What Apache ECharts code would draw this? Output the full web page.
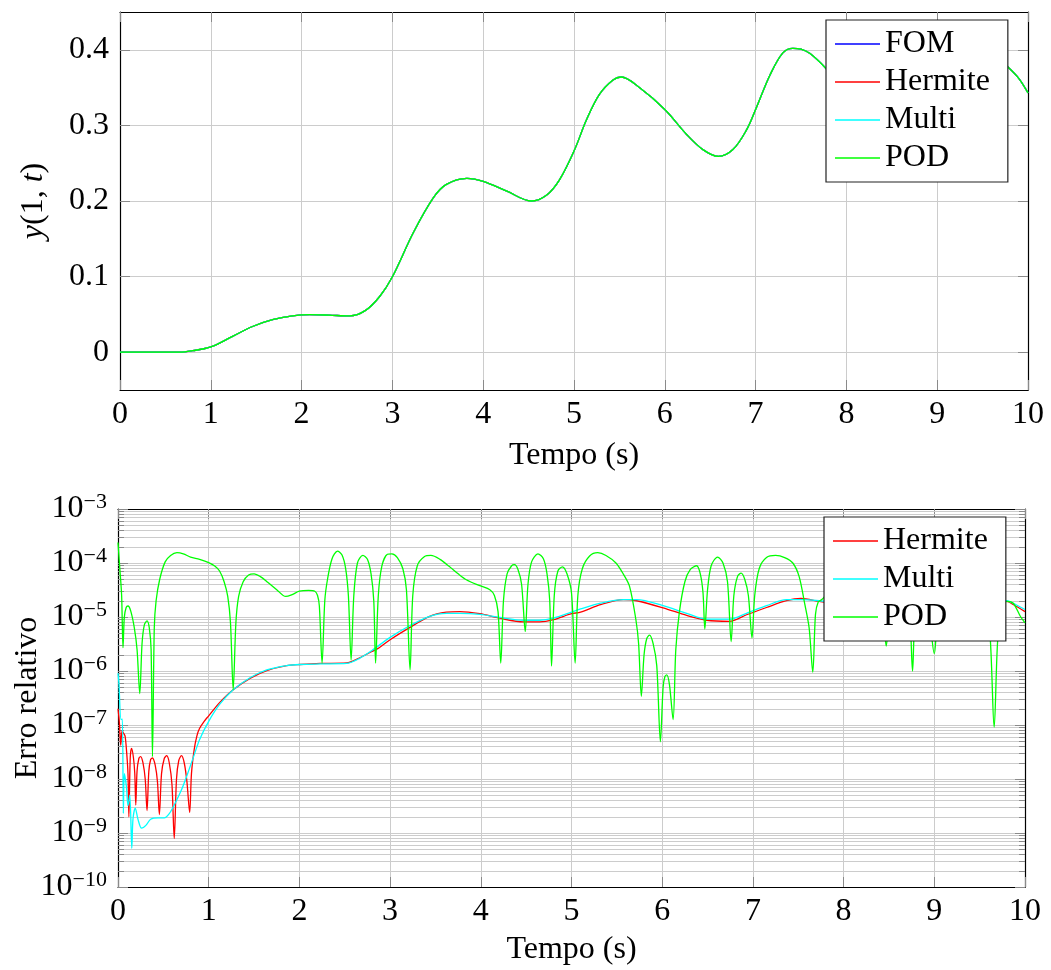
<!DOCTYPE html>
<html><head><meta charset="utf-8">
<script src="https://cdn.jsdelivr.net/npm/echarts@6/dist/echarts.min.js"></script>
<style>html,body{margin:0;padding:0;background:#fff}#c{width:1051px;height:970px}</style>
</head><body><div id="c"></div>
<script>
// ---------- data ----------
const xTicks = [0,1,2,3,4,5,6,7,8,9,10];
const yTopTicks = [0, 0.1, 0.2, 0.3, 0.4];
const yTopTickLabels = ['0', '0.1', '0.2', '0.3', '0.4'];
const errTicks = [1e-10, 1e-9, 1e-8, 1e-7, 1e-6, 1e-5, 1e-4, 1e-3];
const errTickExp = ['\u221210', '\u22129', '\u22128', '\u22127', '\u22126', '\u22125', '\u22124', '\u22123'];

// top panel: y(1,t) -- FOM, Hermite, Multi and POD coincide at plot resolution
const tTop = [0,0.5,0.66,0.8,1.0,1.24,1.46,1.68,1.9,2.09,2.3,2.53,2.7,2.86,3.0,3.23,3.45,3.59,3.82,4.0,4.26,4.53,4.7,4.84,5.0,5.14,5.28,5.43,5.52,5.72,6.0,6.24,6.42,6.59,6.75,6.9,7.0,7.16,7.3,7.41,7.5,7.6,7.77,8.0,8.3,8.6,8.9,9.2,9.45,9.65,9.79,9.9,10];
const yFOM = [0,0,0,0.002,0.007,0.021,0.034,0.043,0.048,0.0496,0.049,0.048,0.055,0.0737,0.0998,0.158,0.204,0.2216,0.230,0.226,0.213,0.200,0.208,0.228,0.266,0.308,0.341,0.360,0.364,0.350,0.321,0.288,0.268,0.259,0.268,0.294,0.321,0.367,0.396,0.402,0.401,0.395,0.376,0.345,0.315,0.305,0.325,0.365,0.39,0.39,0.376,0.362,0.343];
const yHermite = yFOM.slice();
const yMulti = yFOM.slice();
const yPOD = yFOM.slice();

// bottom panel: relative error
const tHermite = [0,0.015,0.03,0.045,0.06,0.078,0.095,0.11,0.12,0.135,0.15,0.17,0.185,0.196,0.21,0.23,0.25,0.275,0.30,0.32,0.34,0.36,0.38,0.41,0.435,0.456,0.48,0.51,0.537,0.565,0.595,0.62,0.645,0.67,0.70,0.73,0.76,0.79,0.81,0.84,0.87,0.90,0.95,1.00,1.12,1.27,1.46,1.64,1.86,2.01,2.23,2.52,2.66,2.80,2.88,3.00,3.21,3.43,3.62,3.77,3.99,4.21,4.47,4.65,4.80,5.00,5.10,5.32,5.57,5.72,6.01,6.27,6.49,6.74,6.93,7.15,7.37,7.53,7.73,8.00,8.30,8.60,8.90,9.20,9.50,9.80,9.87,10.0];
const eHermite = [2.0e-7,1.12e-7,4.2e-8,7.9e-8,7.1e-8,6.2e-8,3.2e-8,1.26e-8,2.0e-9,2.5e-8,3.7e-8,2.5e-8,1.26e-8,3.3e-9,1.4e-8,2.4e-8,2.6e-8,2.0e-8,1.0e-8,2.6e-9,1.4e-8,2.3e-8,2.45e-8,1.8e-8,8.9e-9,2.2e-9,1.26e-8,2.4e-8,2.7e-8,2.0e-8,7.9e-9,7.9e-10,1.0e-8,2.2e-8,2.7e-8,2.0e-8,8.9e-9,2.4e-9,1.26e-8,3.5e-8,6.3e-8,8.7e-8,1.17e-7,1.48e-7,2.6e-7,4.5e-7,7.4e-7,1.02e-6,1.26e-6,1.32e-6,1.38e-6,1.41e-6,1.74e-6,2.3e-6,2.7e-6,3.8e-6,6.3e-6,1.02e-5,1.23e-5,1.26e-5,1.15e-5,9.5e-6,8.1e-6,8.1e-6,8.9e-6,1.15e-5,1.23e-5,1.7e-5,2.1e-5,2.0e-5,1.48e-5,1.07e-5,8.7e-6,8.3e-6,1.1e-5,1.5e-5,2.0e-5,2.2e-5,1.95e-5,1.66e-5,1.41e-5,1.26e-5,1.32e-5,1.58e-5,1.9e-5,1.95e-5,1.7e-5,1.26e-5];

const tMulti = [0,0.01,0.033,0.048,0.059,0.07,0.093,0.11,0.13,0.152,0.165,0.19,0.22,0.26,0.31,0.36,0.44,0.51,0.567,0.62,0.70,0.77,0.84,0.90,1.00,1.12,1.27,1.46,1.64,1.86,2.01,2.23,2.52,2.66,2.80,3.00,3.21,3.43,3.62,3.77,3.99,4.21,4.47,4.65,4.80,5.00,5.10,5.32,5.57,5.72,6.01,6.27,6.49,6.74,6.93,7.15,7.37,7.53,7.73,8.00,8.30,8.60,8.90,9.20,9.50,9.80,9.87,10.0];
const eMulti = [9.1e-7,6.0e-7,1.26e-7,1.29e-7,2.3e-9,1.26e-8,7.2e-9,3.2e-9,5.0e-9,5.2e-10,1.8e-9,2.9e-9,1.8e-9,1.23e-9,1.4e-9,1.8e-9,1.9e-9,1.9e-9,2.3e-9,3.3e-9,6.3e-9,1.29e-8,2.8e-8,5.4e-8,1.17e-7,2.4e-7,4.5e-7,7.6e-7,1.05e-6,1.26e-6,1.32e-6,1.35e-6,1.38e-6,1.7e-6,2.4e-6,4.2e-6,6.8e-6,1.02e-5,1.17e-5,1.17e-5,1.12e-5,9.8e-6,8.7e-6,8.7e-6,9.5e-6,1.23e-5,1.41e-5,1.8e-5,2.1e-5,2.1e-5,1.62e-5,1.17e-5,9.1e-6,9.1e-6,1.17e-5,1.62e-5,2.1e-5,2.1e-5,2.0e-5,1.7e-5,1.45e-5,1.32e-5,1.38e-5,1.62e-5,1.95e-5,2.0e-5,1.8e-5,1.38e-5];

const tPODerr = [0,0.02,0.04,0.055,0.07,0.09,0.11,0.14,0.18,0.21,0.24,0.265,0.29,0.32,0.345,0.365,0.38,0.40,0.42,0.46,0.52,0.58,0.65,0.72,0.80,0.90,1.00,1.07,1.12,1.17,1.21,1.24,1.27,1.30,1.33,1.38,1.44,1.50,1.57,1.65,1.75,1.85,1.92,2.00,2.10,2.17,2.20,2.22,2.25,2.28,2.31,2.36,2.42,2.47,2.51,2.54,2.57,2.60,2.64,2.70,2.75,2.79,2.82,2.84,2.87,2.91,2.97,3.02,3.08,3.14,3.18,3.22,3.25,3.30,3.38,3.45,3.55,3.65,3.75,3.84,3.99,4.10,4.15,4.19,4.22,4.25,4.29,4.34,4.37,4.41,4.45,4.49,4.52,4.56,4.63,4.69,4.73,4.76,4.78,4.81,4.85,4.90,4.95,5.00,5.04,5.07,5.12,5.20,5.29,5.38,5.49,5.57,5.64,5.71,5.74,5.77,5.80,5.83,5.86,5.90,5.94,5.98,6.01,6.03,6.05,6.08,6.12,6.15,6.19,6.25,6.31,6.38,6.42,6.45,6.47,6.50,6.54,6.61,6.67,6.72,6.76,6.79,6.83,6.87,6.91,6.95,6.99,7.02,7.07,7.15,7.25,7.35,7.44,7.51,7.57,7.62,7.66,7.69,7.72,7.76,7.80,7.90,8.05,8.20,8.35,8.43,8.47,8.51,8.60,8.68,8.73,8.76,8.79,8.86,8.93,9.00,9.05,9.20,9.35,9.50,9.60,9.66,9.70,9.75,9.80,9.87,9.95,10.0];
const ePODerr = [2.4e-4,7.9e-5,2.5e-5,2.7e-6,1.0e-5,1.5e-5,1.6e-5,1.3e-5,6.3e-6,2.5e-6,3.8e-7,3.2e-6,7.1e-6,8.5e-6,6.3e-6,2.5e-6,2.6e-8,6.3e-6,2.0e-5,5.0e-5,1.05e-4,1.38e-4,1.55e-4,1.48e-4,1.29e-4,1.17e-4,1.02e-4,8.7e-5,7.1e-5,4.5e-5,2.4e-5,7.9e-6,4.5e-7,7.9e-6,2.4e-5,4.5e-5,6.0e-5,6.3e-5,5.6e-5,4.4e-5,3.2e-5,2.4e-5,2.6e-5,3.0e-5,3.1e-5,3.0e-5,2.5e-5,1.6e-5,1.4e-6,2.0e-5,5.0e-5,1.2e-4,1.66e-4,1.41e-4,7.9e-5,2.5e-5,1.6e-6,2.5e-5,1.0e-4,1.38e-4,1.17e-4,6.3e-5,2.0e-5,1.4e-6,2.5e-5,8.9e-5,1.45e-4,1.48e-4,1.26e-4,7.9e-5,3.2e-5,1.05e-6,2.5e-5,8.9e-5,1.32e-4,1.38e-4,1.17e-4,8.7e-5,6.3e-5,4.9e-5,3.8e-5,3.2e-5,2.5e-5,1.26e-5,1.4e-6,2.0e-5,6.3e-5,8.9e-5,9.3e-5,7.6e-5,4.0e-5,5.4e-6,4.0e-5,1.05e-4,1.48e-4,1.2e-4,6.3e-5,2.0e-5,1.23e-6,2.5e-5,7.1e-5,8.5e-5,6.3e-5,2.8e-5,1.4e-6,2.5e-5,7.9e-5,1.35e-4,1.55e-4,1.38e-4,1.0e-4,6.3e-5,3.7e-5,8.9e-6,3.2e-6,3.4e-7,2.0e-6,4.0e-6,4.6e-6,3.2e-6,1.26e-6,4.9e-8,5.0e-7,7.9e-7,8.5e-7,5.6e-7,1.26e-7,2.5e-6,1.26e-5,4.5e-5,7.6e-5,8.9e-5,6.3e-5,2.8e-5,6.0e-6,3.2e-5,8.9e-5,1.29e-4,1.0e-4,4.5e-5,3.5e-6,2.5e-5,5.6e-5,6.5e-5,5.0e-5,2.5e-5,4.1e-6,2.5e-5,7.9e-5,1.26e-4,1.38e-4,1.26e-4,1.0e-4,5.6e-5,1.8e-5,6.3e-6,9.5e-7,1.12e-5,1.9e-5,2.1e-5,2.5e-5,4.0e-5,5.0e-5,4.5e-5,2.5e-5,1.26e-5,2.9e-6,1.26e-5,3.2e-5,2.5e-5,1.0e-5,1.0e-6,1.0e-5,2.5e-5,1.6e-5,2.1e-6,1.26e-5,4.0e-5,4.5e-5,2.8e-5,1.0e-5,9.1e-8,4.0e-6,1.26e-5,1.95e-5,1.8e-5,1.02e-5,7.8e-6];

// ---------- chart ----------
const FONT = '"Liberation Serif", "Times New Roman", serif';
const FS = 32;
const GRIDC = '#cccccc';
const TICKC = '#8a8a8a';
const zip = (t, v) => t.map((x, i) => [x, v[i]]);

// minor grid positions for log axis (2..9 within each decade)
const minorValues = [];
for (let d = -10; d <= -4; d++) {
  for (let k = 2; k <= 9; k++) minorValues.push([0, k * Math.pow(10, d)]);
}

const chart = echarts.init(document.getElementById('c'), null, { renderer: 'canvas' });

function xAxisMain(gi, gap) {
  return {
    gridIndex: gi, type: 'value', min: 0, max: 10, interval: 1, position: 'bottom',
    axisLine: { onZero: false, lineStyle: { color: '#000', width: 1.2 } },
    axisTick: { inside: true, length: 10, lineStyle: { color: TICKC } },
    axisLabel: { fontSize: FS, fontFamily: FONT, color: '#000', margin: 9,
      formatter: v => String(xTicks[Math.round(v)]) },
    splitLine: { show: true, lineStyle: { color: GRIDC, width: 1 } },
    name: 'Tempo (s)', nameLocation: 'middle', nameGap: gap, nameMoveOverlap: false,
    nameTextStyle: { fontSize: FS, fontFamily: FONT, color: '#000' }
  };
}
function xAxisTop(gi) {
  return {
    gridIndex: gi, type: 'value', min: 0, max: 10, interval: 1, position: 'top',
    axisLine: { onZero: false, lineStyle: { color: '#000', width: 1.2 } },
    axisTick: { inside: true, length: 10, lineStyle: { color: TICKC } },
    axisLabel: { show: false }, splitLine: { show: false }
  };
}
const topYCommon = {
  gridIndex: 0, type: 'value', min: -0.05, max: 0.45,
  axisLine: { show: true, onZero: false, lineStyle: { color: '#000', width: 1.2 } },
  axisTick: { inside: true, length: 10, customValues: yTopTicks, lineStyle: { color: TICKC } }
};
const errYCommon = {
  gridIndex: 1, type: 'log', logBase: 10, min: 1e-10, max: 1e-3,
  axisLine: { show: true, onZero: false, lineStyle: { color: '#000', width: 1.2 } },
  axisTick: { inside: true, length: 10, customValues: errTicks, lineStyle: { color: TICKC } }
};
const legendCommon = {
  orient: 'vertical', icon: 'rect',
  itemWidth: 45, itemHeight: 1.6, itemGap: 6, padding: [8, 18, 8, 9],
  backgroundColor: '#fff', borderColor: '#222', borderWidth: 1.2, borderRadius: 0,
  textStyle: { fontSize: FS, fontFamily: FONT, color: '#000', lineHeight: 31 },
  selectedMode: false
};

const option = {
  backgroundColor: '#fff',
  animation: false,
  grid: [
    { left: 120, right: 23, top: 12, height: 378, outerBoundsMode: 'none', containLabel: false },
    { left: 118, right: 26, top: 509, height: 378, outerBoundsMode: 'none', containLabel: false }
  ],
  xAxis: [ xAxisMain(0, 50), xAxisTop(0), xAxisMain(1, 47), xAxisTop(1) ],
  yAxis: [
    Object.assign({}, topYCommon, {
      position: 'left',
      axisLabel: { customValues: yTopTicks, fontSize: FS, fontFamily: FONT, color: '#000', margin: 11,
        formatter: v => { const i = yTopTicks.findIndex(t => Math.abs(t - v) < 1e-9); return i >= 0 ? yTopTickLabels[i] : ''; } },
      splitLine: { show: true, lineStyle: { color: GRIDC, width: 1 } },
      name: '{i|y}(1, {i|t})', nameLocation: 'middle', nameGap: 70, nameMoveOverlap: false,
      nameTextStyle: { fontSize: FS, fontFamily: FONT, color: '#000',
        rich: { i: { fontStyle: 'italic', fontSize: FS, fontFamily: FONT, color: '#000' } } }
    }),
    Object.assign({}, topYCommon, { position: 'right', axisLabel: { show: false }, splitLine: { show: false } }),
    Object.assign({}, errYCommon, {
      position: 'left',
      axisLabel: { customValues: errTicks, margin: 11, color: '#000',
        formatter: v => { const i = errTicks.findIndex(t => Math.abs(Math.log10(t) - Math.log10(v)) < 1e-6); return i >= 0 ? '{b|10}{s|' + errTickExp[i] + '}' : ''; },
        rich: {
          b: { fontSize: FS, fontFamily: FONT, color: '#000' },
          s: { fontSize: 22, fontFamily: FONT, color: '#000', verticalAlign: 'top', padding: [0, 0, 14, 0] }
        } },
      splitLine: { show: true, lineStyle: { color: GRIDC, width: 1 } },
      name: 'Erro relativo', nameLocation: 'middle', nameGap: 74, nameMoveOverlap: false,
      nameTextStyle: { fontSize: FS, fontFamily: FONT, color: '#000' }
    }),
    Object.assign({}, errYCommon, { position: 'right', axisLabel: { show: false }, splitLine: { show: false } })
  ],
  legend: [
    Object.assign({}, legendCommon, { data: ['FOM', 'Hermite', 'Multi', 'POD'], left: 826, top: 20 }),
    Object.assign({}, legendCommon, { data: ['Hermite', 'Multi', 'POD'], left: 824, top: 517 })
  ],
  series: [
    { name: 'FOM', type: 'line', xAxisIndex: 0, yAxisIndex: 0, data: zip(tTop, yFOM), symbol: 'none', smooth: 0.35, color: '#0000ff', lineStyle: { width: 1.3 } },
    { name: 'Hermite', type: 'line', xAxisIndex: 0, yAxisIndex: 0, data: zip(tTop, yHermite), symbol: 'none', smooth: 0.35, color: '#ff0000', lineStyle: { width: 1.3 } },
    { name: 'Multi', type: 'line', xAxisIndex: 0, yAxisIndex: 0, data: zip(tTop, yMulti), symbol: 'none', smooth: 0.35, color: '#00ffff', lineStyle: { width: 1.3 } },
    { name: 'POD', type: 'line', xAxisIndex: 0, yAxisIndex: 0, data: zip(tTop, yPOD), symbol: 'none', smooth: 0.35, color: '#00ff00', lineStyle: { width: 1.3 } },
    { name: 'minor-grid', type: 'custom', xAxisIndex: 2, yAxisIndex: 2, data: minorValues, silent: true, z: 1, clip: false,
      renderItem: (params, api) => {
        const v = api.value(1);
        const a = api.coord([0, v]);
        const b = api.coord([10, v]);
        const y = Math.round(a[1]) + 0.5;
        return { type: 'group', children: [
          { type: 'line', shape: { x1: a[0], y1: y, x2: b[0], y2: y }, style: { stroke: GRIDC, lineWidth: 1 } },
          { type: 'line', shape: { x1: a[0], y1: y, x2: a[0] + 6, y2: y }, style: { stroke: TICKC, lineWidth: 1 } },
          { type: 'line', shape: { x1: b[0] - 6, y1: y, x2: b[0], y2: y }, style: { stroke: TICKC, lineWidth: 1 } }
        ] };
      } },
    { name: 'Hermite', type: 'line', xAxisIndex: 2, yAxisIndex: 2, data: zip(tHermite, eHermite), symbol: 'none', smooth: 0.3, color: '#ff0000', lineStyle: { width: 1.3 }, z: 3 },
    { name: 'Multi', type: 'line', xAxisIndex: 2, yAxisIndex: 2, data: zip(tMulti, eMulti), symbol: 'none', smooth: 0.3, color: '#00ffff', lineStyle: { width: 1.3 }, z: 3 },
    { name: 'POD', type: 'line', xAxisIndex: 2, yAxisIndex: 2, data: zip(tPODerr, ePODerr), symbol: 'none', smooth: 0.3, color: '#00ff00', lineStyle: { width: 1.3 }, z: 3 }
  ]
};
chart.setOption(option);
</script>
</body></html>
